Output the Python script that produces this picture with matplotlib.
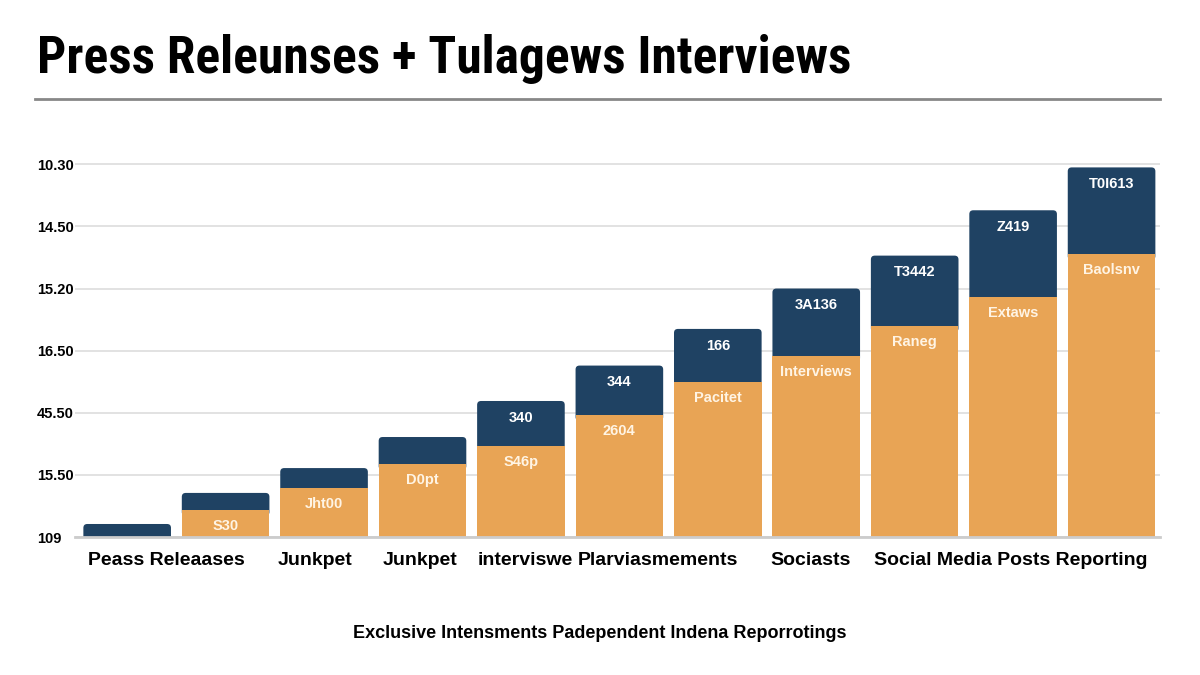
import numpy as np
import matplotlib.pyplot as plt
from matplotlib.patches import FancyBboxPatch

# ----------------------------------------------------------------------
# data (y in grid steps, 0 = baseline)

bar_index = list(range(11))
orange_vals = [0.00, 0.44, 0.79, 1.18, 1.47, 1.97, 2.50, 2.92, 3.40, 3.87, 4.56]
navy_vals = [0.21, 0.27, 0.32, 0.43, 0.72, 0.79, 0.85, 1.08, 1.13, 1.39, 1.39]

navy_labels = ['', '', '', '', '340', '344', '166', '3A136', 'T3442', 'Z419', 'T0I613']
orange_labels = ['', 'S30', 'Jht00', 'D0pt', 'S46p', '2604', 'Pacitet', 'Interviews',
                 'Raneg', 'Extaws', 'Baolsnv']

cat_pos = [0.40, 1.91, 2.98, 4.04, 5.39, 6.94, 8.98]
cat_labels = ['Peass Releaases', 'Junkpet', 'Junkpet', 'interviswe', 'Plarviasmements',
              'Sociasts', 'Social Media Posts Reporting']

ytick_pos = [0, 1, 2, 3, 4, 5, 6]
ytick_labels = ['109', '15.50', '45.50', '16.50', '15.20', '14.50', '10.30']

title = 'Press Releunses + Tulagews Interviews'
xlabel = 'Exclusive Intensments Padependent Indena Reporrotings'

ORANGE = '#E8A455'
NAVY = '#1F4263'

# ----------------------------------------------------------------------

def round_tops(ax, bars):
	# swap the plain rectangles for ones with slightly rounded top corners;
	# the patch reaches down under the orange bar so its lower corners stay hidden
	ext = 0.1
	for b in bars:
		x, y = b.get_x(), b.get_y()
		w, h = b.get_width(), b.get_height()
		p = FancyBboxPatch((x, y - ext), w, h + ext, boxstyle='round,pad=0,rounding_size=0.04',
			mutation_aspect=1.55, facecolor=b.get_facecolor(), edgecolor='none', zorder=2.5)
		ax.add_patch(p)
		b.set_visible(False)

def main():
	fig = plt.figure(figsize=(12, 6.75), dpi=100)
	ax = fig.add_axes([0.0625, 0.2044, 0.904, 0.5706])

	total = np.array(orange_vals) + np.array(navy_vals)

	ax.bar(bar_index, orange_vals, width=0.89, color=ORANGE, zorder=3)
	navy = ax.bar(bar_index, navy_vals, bottom=orange_vals, width=0.89, color=NAVY, zorder=3)
	round_tops(ax, navy)

	for i in bar_index:
		if navy_labels[i]:
			ax.annotate(navy_labels[i], (i, total[i]), xytext=(0, -12), textcoords='offset points',
				ha='center', va='center', color='white', fontsize=10.5, fontweight='bold',
				family='Liberation Sans', zorder=4)
		if orange_labels[i]:
			ax.annotate(orange_labels[i], (i, orange_vals[i]), xytext=(0, -11.5), textcoords='offset points',
				ha='center', va='center', color='#FFF4E4', fontsize=10.5, fontweight='bold',
				family='Liberation Sans', zorder=4)

	ax.set_xlim(-0.53, 10.49)
	ax.set_ylim(0, 6.2)

	ax.set_yticks(ytick_pos, ytick_labels)
	for lab in ax.get_yticklabels():
		lab.set_horizontalalignment('left')
		lab.set_fontsize(10.5)
		lab.set_fontweight('semibold')
		lab.set_family('Liberation Sans')
	ax.tick_params(axis='y', length=0, pad=27.4)

	ax.set_xticks(cat_pos, cat_labels)
	for lab in ax.get_xticklabels():
		lab.set_fontsize(14)
		lab.set_fontweight('semibold')
		lab.set_family('Liberation Sans')
	ax.tick_params(axis='x', length=0, pad=11)

	ax.grid(axis='y', color='#DDDDDD', linewidth=1.2, zorder=0)
	for s in ['top', 'right', 'left']:
		ax.spines[s].set_visible(False)
	ax.spines['bottom'].set_color('#CCCCCC')
	ax.spines['bottom'].set_linewidth(2)
	ax.spines['bottom'].set_zorder(5)

	fig.text(0.5, 1 - 633 / 675, xlabel, ha='center', va='center', fontsize=13,
		fontweight='semibold', family='Liberation Sans')

	# title: condensed heavy face, sized so it spans the same width as the original
	t = fig.text(37 / 1200, 1 - 73 / 675, title, ha='left', va='baseline', fontsize=40,
		fontweight='bold', fontstretch='condensed',
		family=['Roboto Condensed', 'Liberation Sans Narrow', 'DejaVu Sans'])
	r = fig.canvas.get_renderer()
	w = t.get_window_extent(renderer=r).width
	t.set_fontsize(40 * 813 / w)

	fig.add_artist(plt.Line2D([35 / 1200, 1160 / 1200], [1 - 99 / 675, 1 - 99 / 675],
		color='#888888', linewidth=2))

	fig.savefig('out.png', dpi=100, facecolor='white')

if __name__ == '__main__':
	main()
